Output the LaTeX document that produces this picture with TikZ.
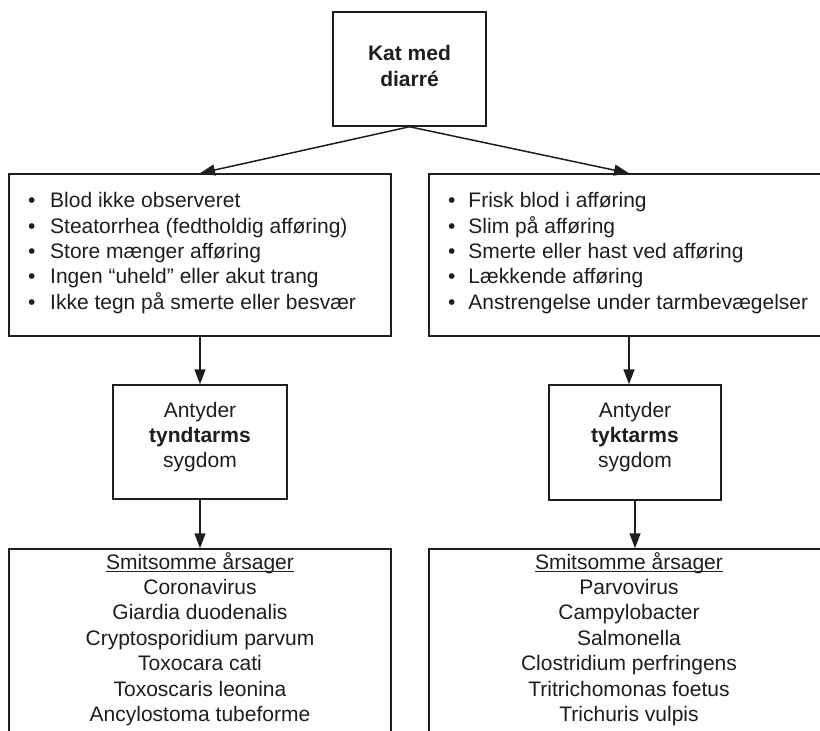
\documentclass[tikz,border=0pt]{standalone}
\usepackage{fontspec}
\setmainfont{Liberation Sans}
\usetikzlibrary{arrows.meta}
\definecolor{ink}{HTML}{1E1E1E}
\newcommand\myul[1]{\setbox0\hbox{#1}\rlap{\rule[-3pt]{\wd0}{1.3pt}}\box0}
\newcommand\bl[1]{\makebox[#1][l]{•}}
\begin{document}
\begin{tikzpicture}[x=1pt,y=-1pt]
\tikzset{
  box/.style={draw=ink, line width=1.5pt, rectangle, inner sep=0pt},
  txt/.style={font=\fontsize{21pt}{25.4pt}\selectfont, text=ink, inner sep=0pt},
  arr/.style={draw=ink, line width=1.5pt, -{Triangle[length=15pt,width=11pt]}}
}
\clip (0,0) rectangle (820,731);
\fill[white] (0,0) rectangle (820,731);

% boxes
\node[box, minimum width=153pt, minimum height=114pt] (top) at (409.5,69) {};
\node[box, minimum width=382pt, minimum height=162pt] (ul) at (200,255) {};
\node[box, minimum width=400pt, minimum height=162pt] (ur) at (629,255) {};
\node[box, minimum width=174pt, minimum height=114pt] (ml) at (200,442) {};
\node[box, minimum width=172pt, minimum height=115pt] (mr) at (635,442.5) {};
\node[box, minimum width=382pt, minimum height=200pt] (bl) at (200,649) {};
\node[box, minimum width=400pt, minimum height=200pt] (br) at (629,649) {};

% texts
\node[txt, font=\fontsize{21pt}{26pt}\selectfont\bfseries, align=center] (toptext) at (409.5,66) {Kat med\\diarré};
\node[txt, align=left, anchor=west] (ultext) at (28,253)
  {\bl{22pt}Blod ikke observeret\\
   \bl{22pt}Steatorrhea (fedtholdig afføring)\\
   \bl{22pt}Store mænger afføring\\
   \bl{22pt}Ingen “uheld” eller akut trang\\
   \bl{22pt}Ikke tegn på smerte eller besvær};
\node[txt, align=left, anchor=west] (urtext) at (448,253)
  {\bl{20.3pt}Frisk blod i afføring\\
   \bl{20.3pt}Slim på afføring\\
   \bl{20.3pt}Smerte eller hast ved afføring\\
   \bl{20.3pt}Lækkende afføring\\
   \bl{20.3pt}Anstrengelse under tarmbevægelser};
\node[txt, align=center] (mltext) at (200,437) {Antyder\\\textbf{tyndtarms}\\sygdom};
\node[txt, align=center] (mrtext) at (635,437) {Antyder\\\textbf{tyktarms}\\sygdom};
\node[txt, align=center] (bltext) at (200,639)
  {\myul{Smitsomme årsager}\\Coronavirus\\Giardia duodenalis\\Cryptosporidium parvum\\Toxocara cati\\Toxoscaris leonina\\Ancylostoma tubeforme};
\node[txt, align=center] (brtext) at (629,639)
  {\myul{Smitsomme årsager}\\Parvovirus\\Campylobacter\\Salmonella\\Clostridium perfringens\\Tritrichomonas foetus\\Trichuris vulpis};

% connectors
\draw[arr] (top.south) -- (ul.north);
\draw[arr] (top.south) -- (ur.north);
\draw[arr] (ul.south) -- (ul.south |- ml.north);
\draw[arr] (ml.south) -- (ml.south |- bl.north);
\draw[arr] (ur.south) -- (ur.south |- mr.north);
\draw[arr] (mr.south) -- (mr.south |- br.north);
\end{tikzpicture}
\end{document}
